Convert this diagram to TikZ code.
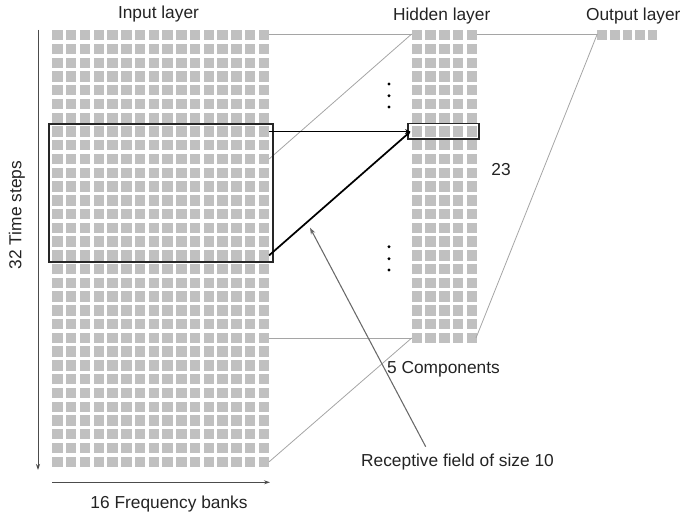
\documentclass[tikz,border=0pt]{standalone}
\usepackage{fontspec}
\setmainfont{Liberation Sans}
\usetikzlibrary{arrows.meta}
\definecolor{cellgray}{RGB}{192,192,192}
\definecolor{linkgray}{RGB}{165,165,165}
\definecolor{pointgray}{RGB}{105,105,105}
\definecolor{inkgray}{RGB}{35,35,35}

\begin{document}
\begin{tikzpicture}[x=0.75pt,y=-0.75pt,
  cell/.style={fill=cellgray},
  link/.style={draw=linkgray,line width=0.6pt},
  field/.style={draw=black!85,line width=1.4pt},
  wire/.style={draw=black,line width=1.3pt,-{Stealth[length=4pt,width=3.5pt]}},
  axis/.style={draw=black!70,line width=0.7pt,-{Stealth[length=4.5pt,width=3pt]}},
  label/.style={text=inkgray,font=\fontsize{13}{15}\selectfont,inner sep=0}]
\useasboundingbox (0,0) rectangle (681,516);

% input layer: 16 x 32
\foreach \i in {0,...,15}
  \foreach \j in {0,...,31}
    \fill[cell] ({52.3+\i*13.76},{30+\j*13.76}) rectangle ++(10.4,10.4);
% hidden layer: 5 x 23
\foreach \i in {0,...,4}
  \foreach \j in {0,...,22}
    \fill[cell] ({411.7+\i*13.76},{30+\j*13.76}) rectangle ++(10.4,10.4);
% output layer
\foreach \i in {0,...,4}
  \fill[cell] ({597.3+\i*12.6},30) rectangle ++(9.6,9.6);

\coordinate (in-r0) at (269.1,34);
\coordinate (in-r7) at (269.1,131.5);
\coordinate (in-r9) at (269.1,159);
\coordinate (in-r16) at (269.1,255.4);
\coordinate (in-r22) at (269.1,338);
\coordinate (in-r31) at (269.1,461.8);
\coordinate (hid-tl) at (411.7,34);
\coordinate (hid-tr) at (477.1,34);
\coordinate (hid-bl) at (411.7,338);
\coordinate (hid-br) at (476,338);
\coordinate (hid-r7) at (410.5,131.5);
\coordinate (out-l) at (597.3,34);

% thin connections
\draw[link] (in-r0) -- (hid-tl);
\draw[link] (in-r9) -- (hid-tl);
\draw[link] (hid-tr) -- (out-l);
\draw[link] (out-l) -- (hid-br);
\draw[link] (in-r22) -- (hid-bl);
\draw[link] (in-r31) -- (hid-bl);

% receptive field
\draw[field] (49,124.3) rectangle (273.3,262.3);
\draw[field] (407.7,123.5) rectangle (478.6,139);
\draw[wire] (in-r7) -- (hid-r7);
\draw[wire] (in-r16) -- (hid-r7);

% dots
\foreach \y in {84,95.7,107,246.7,258.7,270}
  \fill[black] (389,\y) circle (1.6);

% axes
\coordinate (ax-top) at (38,30);
\coordinate (ax-bot) at (38,470);
\coordinate (ax-left) at (52.3,482.3);
\coordinate (ax-right) at (270,482.3);
\draw[axis] (ax-top) -- (ax-bot);
\draw[axis] (ax-left) -- (ax-right);

% labels
\node[label] (input) at (158.5,14) {Input layer};
\node[label] (hidden) at (441.7,16.5) {Hidden layer};
\node[label] (output) at (633.3,16) {Output layer};
\node[label] (rows) at (501,170) {23};
\node[label] (comps) at (443.5,369) {5 Components};
\node[label] (recep) at (457.5,462) {Receptive field of size 10};
\node[label] (freq) at (169,504) {16 Frequency banks};
\node[label,rotate=90] (time) at (17,215) {32 Time steps};

\coordinate (recep-foot) at (425.7,446.7);
\coordinate (recep-tip) at (310,227.7);
\draw[draw=pointgray,line width=0.8pt,-{Stealth[length=5pt,width=3.5pt]}] (recep-foot) -- (recep-tip);
\end{tikzpicture}
\end{document}
